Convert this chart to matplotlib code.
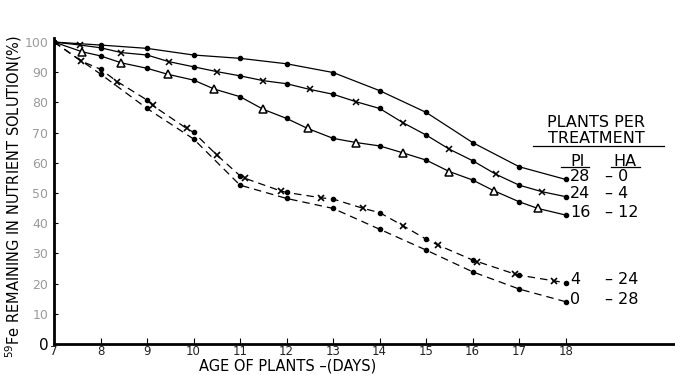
import matplotlib
matplotlib.use("Agg")
import matplotlib.pyplot as plt
import numpy as np

# ---- data ----
days = [7, 8, 9, 10, 11, 12, 13, 14, 15, 16, 17, 18]

s28_0 = [100, 99.0, 97.9, 95.7, 94.6, 92.8, 89.9, 83.9, 76.7, 66.7, 58.7, 54.5]

s24_4 = [100, 98.1, 95.7, 91.8, 88.8, 86.2, 82.7, 78.0, 69.2, 60.7, 52.6, 48.8]
s24_4_mx = [7.56, 8.45, 9.47, 10.5, 11.5, 12.5, 13.5, 14.5, 15.5, 16.5, 17.5]
s24_4_my = [99.0, 96.5, 93.5, 90.2, 87.2, 84.3, 80.2, 73.3, 64.5, 56.2, 50.4]

s16_12 = [100, 95.4, 91.3, 87.4, 81.9, 74.7, 68.1, 65.6, 60.9, 54.3, 47.1, 42.7]
s16_12_mx = [7.6, 8.45, 9.45, 10.45, 11.5, 12.45, 13.5, 14.5, 15.5, 16.45, 17.4]
s16_12_my = [96.8, 93.1, 89.3, 84.4, 77.7, 71.4, 66.7, 63.3, 57.1, 50.8, 44.9]

s4_24 = [100, 91.0, 80.8, 70.1, 55.7, 50.2, 48.0, 43.5, 34.7, 27.8, 22.8, 20.3]
s4_24_mx = [7.57, 8.36, 9.12, 9.85, 10.5, 11.1, 11.87, 12.75, 13.65, 14.5, 15.25, 16.1, 16.9, 17.75]
s4_24_my = [93.8, 86.9, 79.0, 71.4, 62.6, 54.9, 50.7, 48.4, 44.9, 39.2, 32.8, 27.3, 23.2, 20.9]

s0_28 = [100, 89.4, 78.0, 67.9, 52.6, 48.2, 44.9, 38.0, 31.1, 23.9, 18.2, 14.0]

pi_labels = ["28", "24", "16", "4", "0"]
ha_labels = ["– 0", "– 4", "– 12", "– 24", "– 28"]
label_y = [55.4, 49.7, 43.5, 21.2, 14.6]

yticks = [0, 10, 20, 30, 40, 50, 60, 70, 80, 90, 100]
xticks = days

plt.rcParams['font.family'] = ['DejaVu Sans']

fig = plt.figure(figsize=(6.75, 3.74), dpi=100)
ax = fig.add_axes([54/675, 30/374, 1 - 54/675, (344 - 37.5)/374])
ax.set_xlim(7, 20.35)
ax.set_ylim(0, 101.5)


def merged(xd, yd, mx=None, my=None):
    xs = list(xd)
    ys = list(yd)
    if mx is not None:
        xs += list(mx)
        ys += list(my)
    order = np.argsort(xs)
    return np.array(xs)[order], np.array(ys)[order]


lw = 0.9
dash = (0, (6, 4))
# solid series
x, y = merged(days, s28_0)
ax.plot(x, y, color='black', lw=lw)
ax.plot(days, s28_0, 'o', color='black', ms=3)

x, y = merged(days, s24_4, s24_4_mx, s24_4_my)
ax.plot(x, y, color='black', lw=lw)
ax.plot(days, s24_4, 'o', color='black', ms=3)
ax.plot(s24_4_mx, s24_4_my, 'x', color='black', ms=5, mew=1.1)

x, y = merged(days, s16_12, s16_12_mx, s16_12_my)
ax.plot(x, y, color='black', lw=lw)
ax.plot(days, s16_12, 'o', color='black', ms=3)
ax.plot(s16_12_mx, s16_12_my, '^', color='black', ms=6, mfc='white', mew=1.1)

# dashed series
x, y = merged(days, s4_24, s4_24_mx, s4_24_my)
ax.plot(x, y, color='black', lw=lw, linestyle=dash)
ax.plot(days, s4_24, 'o', color='black', ms=3)
ax.plot(s4_24_mx, s4_24_my, 'x', color='black', ms=5, mew=1.2)

x, y = merged(days, s0_28)
ax.plot(x, y, color='black', lw=lw, linestyle=dash)
ax.plot(days, s0_28, 'o', color='black', ms=3)

# axes styling
for s in ['top', 'right']:
    ax.spines[s].set_visible(False)
ax.spines['left'].set_linewidth(2)
ax.spines['bottom'].set_linewidth(2)
ax.set_yticks(yticks)
ax.set_yticklabels([str(t) for t in yticks], fontsize=9, color='#9a9a9a')
ax.get_yticklabels()[0].set_color('black')
ax.get_yticklabels()[0].set_fontsize(11)
ax.set_xticks(xticks)
ax.set_xticklabels([str(t) for t in xticks], fontsize=8.5, color='#222222')
ax.tick_params(axis='y', direction='in', length=3, width=0.8, pad=4)
ax.tick_params(axis='x', direction='in', length=4, width=0.8, pad=1)

ax.set_xlabel("AGE OF PLANTS –(DAYS)", fontsize=10.5, labelpad=0, va='center')
ax.xaxis.set_label_coords((288 - 54) / (675 - 54), -(366 - 344) / 306.5)
fig.text(14/675, 1 - 196/374, r"$^{59}$Fe REMAINING IN NUTRIENT SOLUTION(%)", rotation=90,
         ha='center', va='center', fontsize=10.5)

# legend-like annotation
ax.text(18.65, 73.2, "PLANTS PER", ha='center', va='center', fontsize=11.5)
ax.text(18.65, 68.2, "TREATMENT", ha='center', va='center', fontsize=11.5)
ax.plot([17.3, 20.12], [65.6, 65.6], color='black', lw=0.9, clip_on=False)
ax.text(18.25, 60.6, "PI", ha='center', va='center', fontsize=11.5)
ax.text(19.28, 60.6, "HA", ha='center', va='center', fontsize=11.5)
ax.plot([17.9, 18.5], [58.5, 58.5], color='black', lw=0.9)
ax.plot([18.98, 19.6], [58.5, 58.5], color='black', lw=0.9)
for pl, hl, yy in zip(pi_labels, ha_labels, label_y):
    ax.text(18.1, yy, pl, ha='left', va='center', fontsize=11.5)
    ax.text(18.85, yy, hl, ha='left', va='center', fontsize=11.5)

fig.savefig("out.png", dpi=100)
